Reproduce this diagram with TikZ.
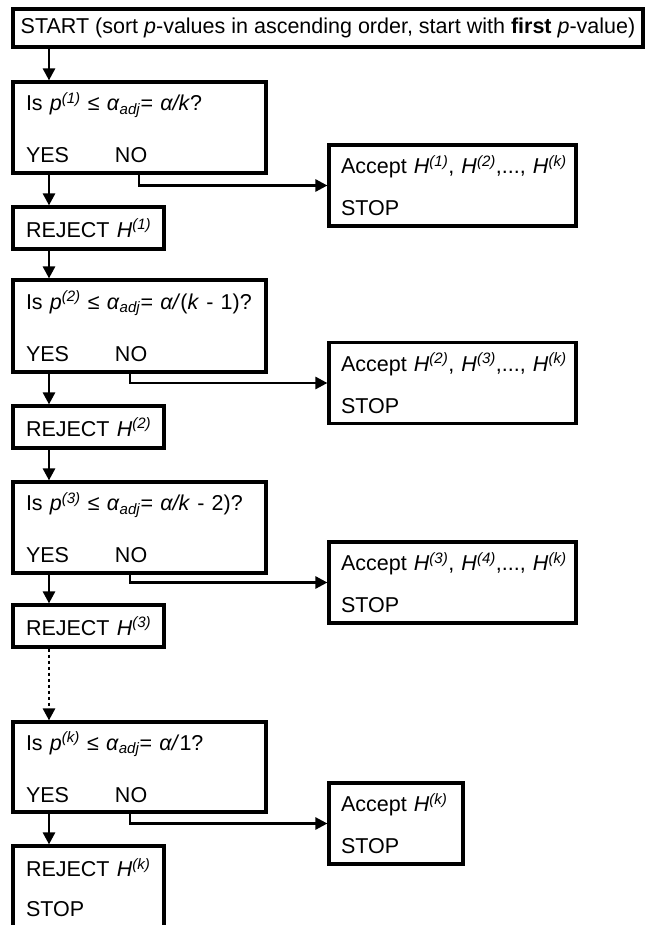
\documentclass[tikz,border=0pt]{standalone}
\usepackage{fontspec}
\setmainfont{Liberation Sans}
\usetikzlibrary{arrows.meta}

\newcommand{\Hyp}[1]{\textit{H}\textsuperscript{\textit{(#1)}}}
\newcommand{\Pval}[1]{\textit{p}\textsuperscript{\textit{(#1)}}}
\newcommand{\Aadj}{\textit{α}\textsubscript{\textit{adj}}}

\tikzset{
  box/.style={draw, line width=3.2pt, align=left, inner ysep=0pt, font=\fontsize{21.5}{25}\selectfont},
  question/.style={box, minimum width=253pt, inner xsep=13pt, text width=227pt},
  reject/.style={box, minimum width=151pt, inner xsep=13pt, text width=125pt},
  accept/.style={box, minimum height=81pt, inner xsep=12pt},
  flow/.style={line width=2.6pt, -{Triangle[length=12pt,width=12pt]}}
}

\begin{document}
\begin{tikzpicture}[x=1pt,y=-1pt]
\useasboundingbox[fill=white] (0,0) rectangle (648,925);
\begin{scope}
\clip (0,0) rectangle (648,925);
\node[box, minimum width=630pt, minimum height=38pt, inner xsep=0pt, align=center] (start) at (328,28) {START (sort \textit{p}-values in ascending order, start with \textbf{first} \textit{p}-value)};

\node[question, minimum height=91pt] (q1) at (139.5,127.5) {\mbox{Is \Pval{1} ≤ \Aadj= \textit{α/k}?}\\[27pt]\makebox[89pt][l]{YES}NO};
\node[reject, minimum height=42pt] (r1) at (88.5,228) {\mbox{REJECT \Hyp{1}}};
\node[accept, minimum width=247pt, text width=223pt] (a1) at (452.5,185.5) {\mbox{Accept \Hyp{1}, \Hyp{2},..., \Hyp{k}}\\[17pt]STOP};

\node[question, minimum height=92pt] (q2) at (139.5,326) {\mbox{Is \Pval{2} ≤ \Aadj= \textit{α/}(\textit{k} - 1)?}\\[27pt]\makebox[89pt][l]{YES}NO};
\node[reject, minimum height=42pt] (r2) at (88.5,427) {\mbox{REJECT \Hyp{2}}};
\node[accept, minimum width=247pt, text width=223pt] (a2) at (452.5,383) {\mbox{Accept \Hyp{2}, \Hyp{3},..., \Hyp{k}}\\[17pt]STOP};

\node[question, minimum height=91pt] (q3) at (139.5,527.5) {\mbox{Is \Pval{3} ≤ \Aadj= \textit{α/k} - 2)?}\\[27pt]\makebox[89pt][l]{YES}NO};
\node[reject, minimum height=42pt] (r3) at (88.5,626) {\mbox{REJECT \Hyp{3}}};
\node[accept, minimum width=247pt, text width=223pt] (a3) at (452.5,582.5) {\mbox{Accept \Hyp{3}, \Hyp{4},..., \Hyp{k}}\\[17pt]STOP};

\node[question, minimum height=90pt] (q4) at (139.5,767) {\mbox{Is \Pval{k} ≤ \Aadj= \textit{α/}1?}\\[27pt]\makebox[89pt][l]{YES}NO};
\node[reject, minimum height=83pt] (r4) at (88.5,887.5) {\mbox{REJECT \Hyp{k}}\\[15pt]STOP};
\node[accept, minimum width=134pt, text width=110pt] (a4) at (396,823.5) {\mbox{Accept \Hyp{k}}\\[17pt]STOP};

\coordinate (spine) at (49,0);
\coordinate (noA) at (139,0);
\coordinate (noB) at (130,0);

% yes branch
\draw[flow] (start.south -| spine) -- (q1.north -| spine);
\draw[flow] (q1.south -| spine) -- (r1.north -| spine);
\draw[flow] (r1.south -| spine) -- (q2.north -| spine);
\draw[flow] (q2.south -| spine) -- (r2.north -| spine);
\draw[flow] (r2.south -| spine) -- (q3.north -| spine);
\draw[flow] (q3.south -| spine) -- (r3.north -| spine);
\draw[flow, dash pattern=on 3pt off 3pt] (r3.south -| spine) -- (q4.north -| spine);
\draw[flow] (q4.south -| spine) -- (r4.north -| spine);

% no branch
\draw[flow] (q1.south -| noA) |- (a1.west);
\draw[flow] (q2.south -| noB) |- (a2.west);
\draw[flow] (q3.south -| noB) |- (a3.west);
\draw[flow] (q4.south -| noB) |- (a4.west);
\end{scope}
\end{tikzpicture}
\end{document}
